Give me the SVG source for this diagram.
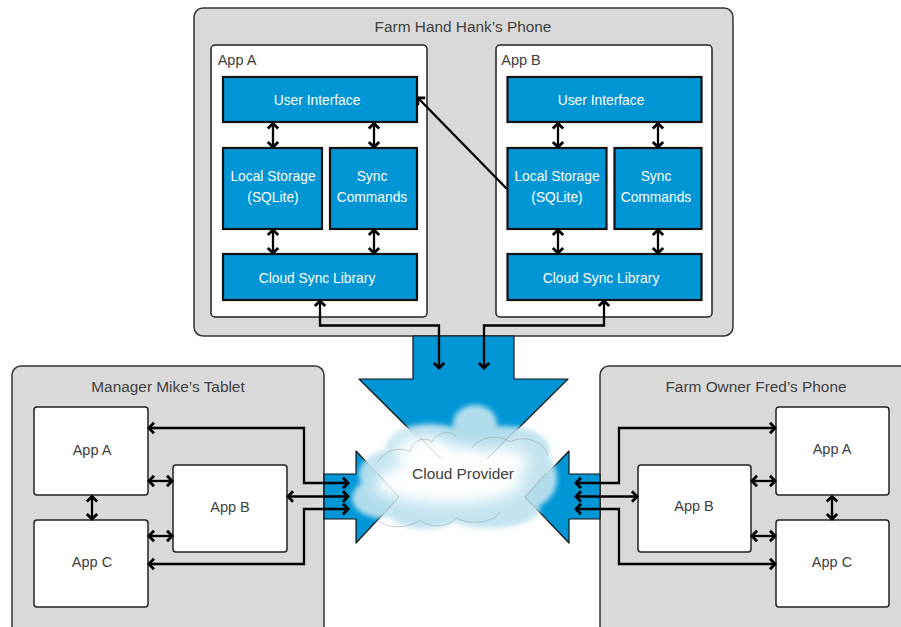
<svg xmlns="http://www.w3.org/2000/svg" width="901" height="627" viewBox="0 0 901 627">
<style>
text{font-family:"Liberation Sans",Arial,sans-serif;font-size:14.500px;fill:#404040;text-anchor:middle}
.title{font-size:15.400px}
.panel{fill:#d9d9d9;stroke:#333;stroke-width:1.5}
.app{fill:#fff;stroke:#222;stroke-width:1.5}
.blue{fill:#0096d6;stroke:#111;stroke-width:2.2}
.w{fill:#fff;font-size:13.800px}
.big{fill:#0096d6;stroke:#111;stroke-width:1.2;stroke-linejoin:round}
.c{fill:none;stroke:#000;stroke-width:2.3;marker-end:url(#a)}
.d{marker-start:url(#a)}
</style>
<defs>
<marker id="a" markerUnits="userSpaceOnUse" markerWidth="14" markerHeight="14" refX="10.500" refY="7" orient="auto-start-reverse">
<path d="M5.500 1.800L10.500 7L5.500 12.200" fill="none" stroke="#000" stroke-width="2.800"/>
</marker>
<filter id="b1" x="-20%" y="-30%" width="140%" height="160%"><feGaussianBlur stdDeviation="2.500"/></filter>
<filter id="b2" x="-20%" y="-30%" width="140%" height="160%"><feGaussianBlur stdDeviation="7"/></filter>
<filter id="b3" x="-20%" y="-30%" width="140%" height="160%"><feGaussianBlur stdDeviation=".7"/></filter>
</defs>
<g id="panel-hank">
<rect class="panel" x="194" y="8" width="539" height="328" rx="9"/>
<text class="title" x="463" y="32">Farm Hand Hank’s Phone</text>
</g>
<g id="panel-mike">
<rect class="panel" x="12" y="366" width="312" height="270" rx="9"/>
<text class="title" x="168" y="392">Manager Mike’s Tablet</text>
</g>
<g id="panel-fred">
<rect class="panel" x="600" y="366" width="312" height="270" rx="9"/>
<text class="title" x="756" y="392">Farm Owner Fred’s Phone</text>
</g>
<g id="arrow-top"><path class="big" d="M413 336V379H359L463.500 483L568 379H514V336Z"/></g>
<g id="arrow-left"><path class="big" d="M324 474H356V451L399 497L356 543V519H324Z"/></g>
<g id="arrow-right"><path class="big" d="M600 474H569V451L525 497L569 543V519H600Z"/></g>
<g id="app-a-hank">
<rect class="app" x="211" y="45" width="216" height="272" rx="4"/>
<text x="237" y="65">App A</text>
</g>
<g id="app-b-hank">
<rect class="app" x="496" y="45" width="216" height="272" rx="4"/>
<text x="521" y="65">App B</text>
</g>
<g id="ui-a"><rect class="blue" x="223" y="77" width="194" height="45"/><text class="w" x="317" y="105">User Interface</text></g>
<g id="storage-a"><rect class="blue" x="223" y="148" width="99" height="81"/><text class="w" x="273" y="181">Local Storage</text><text class="w" x="273" y="202">(SQLite)</text></g>
<g id="sync-a"><rect class="blue" x="330" y="148" width="87" height="81"/><text class="w" x="372" y="181">Sync</text><text class="w" x="372" y="202">Commands</text></g>
<g id="lib-a"><rect class="blue" x="223" y="254" width="194" height="46"/><text class="w" x="317" y="283">Cloud Sync Library</text></g>
<g id="ui-b"><rect class="blue" x="507.500" y="77" width="194" height="45"/><text class="w" x="601" y="105">User Interface</text></g>
<g id="storage-b"><rect class="blue" x="507.500" y="148" width="99" height="81"/><text class="w" x="557" y="181">Local Storage</text><text class="w" x="557" y="202">(SQLite)</text></g>
<g id="sync-b"><rect class="blue" x="614.500" y="148" width="87" height="81"/><text class="w" x="656" y="181">Sync</text><text class="w" x="656" y="202">Commands</text></g>
<g id="lib-b"><rect class="blue" x="507.500" y="254" width="194" height="46"/><text class="w" x="601" y="283">Cloud Sync Library</text></g>
<g id="mike-a"><rect class="app" x="34" y="407" width="114" height="88" rx="3"/><text x="92" y="455">App A</text></g>
<g id="mike-c"><rect class="app" x="34" y="520" width="114" height="87" rx="3"/><text x="92" y="567">App C</text></g>
<g id="mike-b"><rect class="app" x="173" y="465" width="114" height="87" rx="3"/><text x="230" y="512">App B</text></g>
<g id="fred-a"><rect class="app" x="776" y="407" width="113" height="88" rx="3"/><text x="832" y="454">App A</text></g>
<g id="fred-c"><rect class="app" x="776" y="520" width="113" height="87" rx="3"/><text x="832" y="567">App C</text></g>
<g id="fred-b"><rect class="app" x="638" y="465" width="113" height="87" rx="3"/><text x="694" y="511">App B</text></g>
<g id="connectors">
<path class="c d" d="M273 123.500V147"/><path class="c d" d="M374 123.500V147"/>
<path class="c d" d="M273 230V253"/><path class="c d" d="M374 230V253"/>
<path class="c d" d="M558 123.500V147"/><path class="c d" d="M658 123.500V147"/>
<path class="c d" d="M558 230V253"/><path class="c d" d="M658 230V253"/>
<path class="c" d="M507 189L418 98"/>
<path class="c d" d="M320 301V325.500H439V368"/>
<path class="c d" d="M604 301V325.500H484V368"/>
<path class="c d" d="M92 496.500V519"/>
<path class="c d" d="M149 481H172"/><path class="c d" d="M149 536H172"/>
<path class="c d" d="M149 428H304V483H348"/>
<path class="c d" d="M288 496.500H348"/>
<path class="c d" d="M149 564H304V509H348"/>
<path class="c d" d="M832 496.500V519"/>
<path class="c d" d="M752 481H775"/><path class="c d" d="M752 536H775"/>
<path class="c d" d="M775 428H619V483H576"/>
<path class="c d" d="M637 496.500H576"/>
<path class="c d" d="M775 564H619V509H576"/>
</g>
<g id="cloud">
<g filter="url(#b1)" fill="#bfe2ee" opacity=".93">
<ellipse cx="475" cy="424" rx="22" ry="19"/>
<ellipse cx="430" cy="448" rx="44" ry="24"/>
<ellipse cx="505" cy="450" rx="45" ry="24"/>
<ellipse cx="395" cy="475" rx="36" ry="26"/>
<ellipse cx="528" cy="478" rx="29" ry="30"/>
<ellipse cx="460" cy="485" rx="92" ry="30"/>
<ellipse cx="382" cy="498" rx="30" ry="20"/>
<ellipse cx="490" cy="508" rx="50" ry="20"/>
<ellipse cx="425" cy="512" rx="36" ry="17"/>
</g>
<g filter="url(#b2)" fill="#fff">
<ellipse cx="450" cy="482" rx="72" ry="21"/>
<ellipse cx="425" cy="452" rx="30" ry="16"/>
<ellipse cx="500" cy="462" rx="28" ry="14"/>
<ellipse cx="465" cy="460" rx="24" ry="14"/>
<ellipse cx="395" cy="485" rx="20" ry="12"/>
</g>
<g filter="url(#b3)" fill="none" stroke="#8a8a8a" stroke-opacity=".4">
<path d="M378 462C385 450 400 446 410 452C412 440 425 436 432 442C438 432 450 430 456 436"/>
<path d="M472 448C480 436 500 434 510 442C525 434 545 442 548 456"/>
<path d="M376 520C390 530 410 528 420 520C432 530 450 526 456 518C470 526 495 522 500 512"/>
<path d="M420 437L441 459M514 431L487 459M378 474L399 497L379 519M546 473L525 497L547 520"/>
</g>
<text class="title" x="463" y="479">Cloud Provider</text>
</g>
</svg>
